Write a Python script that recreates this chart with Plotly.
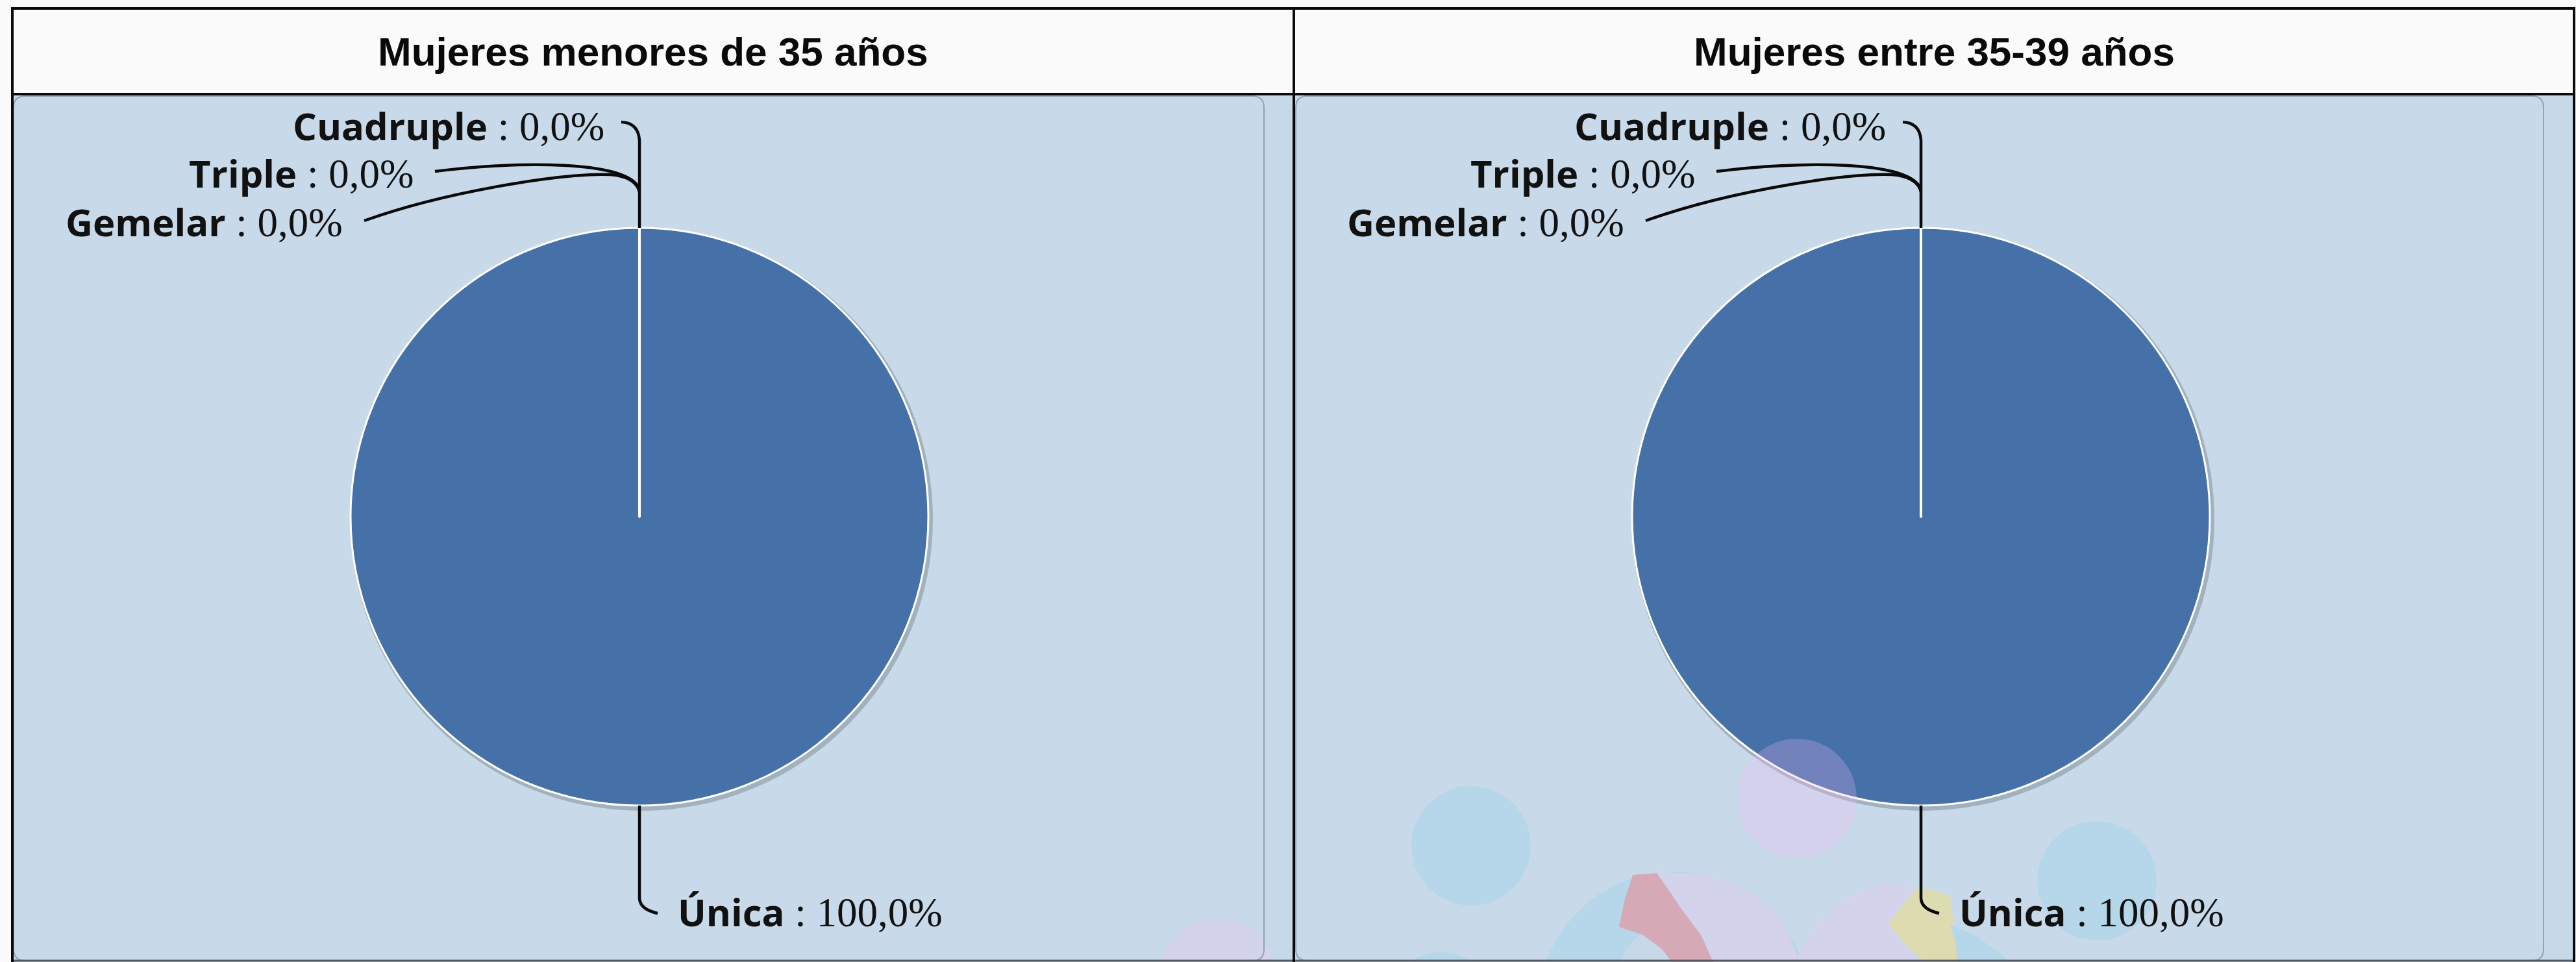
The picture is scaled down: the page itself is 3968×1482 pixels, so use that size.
import math
import plotly.graph_objects as go

# ---------------- data ----------------
categories = ["Única", "Gemelar", "Triple", "Cuadruple"]
values_menores_35 = [100.0, 0.0, 0.0, 0.0]
values_35_39 = [100.0, 0.0, 0.0, 0.0]
panel_titles = ["Mujeres menores de 35 años", "Mujeres entre 35-39 años"]
slice_colors = ["#4571A8", "#AA4643", "#89A54E", "#80699B"]

# ---------------- geometry helpers (pixels -> paper) ----------------
W, H = 3968, 1482


def X(x):
    return x / W


def Y(y):
    return 1 - y / H


def fmt(pt):
    return f"{X(pt[0]):.5f},{Y(pt[1]):.5f}"


def path(cmds):
    out = []
    for c in cmds:
        op, pts = c[0], c[1:]
        out.append(op + " " + " ".join(fmt(p) for p in pts))
    return " ".join(out)


def poly(points):
    return "M " + " L ".join(fmt(p) for p in points) + " Z"


def rrect(x0, y0, x1, y1, r):
    return path([
        ("M", (x0 + r, y0)), ("L", (x1 - r, y0)), ("Q", (x1, y0), (x1, y0 + r)),
        ("L", (x1, y1 - r)), ("Q", (x1, y1), (x1 - r, y1)), ("L", (x0 + r, y1)),
        ("Q", (x0, y1), (x0, y1 - r)), ("L", (x0, y0 + r)), ("Q", (x0, y0), (x0 + r, y0)),
    ]) + " Z"


def circle(cx, cy, r, fill, layer="above"):
    return dict(type="circle", xref="paper", yref="paper", x0=X(cx - r), x1=X(cx + r),
                y0=Y(cy + r), y1=Y(cy - r), fillcolor=fill, line=dict(width=0), layer=layer)


def pshape(d, fill=None, color=None, width=0, layer="above"):
    s = dict(type="path", xref="paper", yref="paper", path=d, layer=layer,
             line=dict(color=color or "rgba(0,0,0,0)", width=width))
    if fill:
        s["fillcolor"] = fill
    return s


# layout constants
COL_X = [(19, 1993), (1993, 3965)]
PANEL_X = [(21, 1947), (1996, 3918)]
PANEL_Y = (148, 1480)
PIE_CX = [985, 2959]
PIE_CY = 796
PIE_R = 445
BG = "#C7D9E8"

fig = go.Figure()

for i, vals in enumerate([values_menores_35, values_35_39]):
    cx = PIE_CX[i]
    fig.add_trace(go.Pie(
        labels=categories, values=vals, sort=False, direction="clockwise", rotation=0,
        marker=dict(colors=slice_colors, line=dict(color="white", width=3)),
        textinfo="none", hoverinfo="label+percent", showlegend=False,
        domain=dict(x=[X(cx - PIE_R), X(cx + PIE_R)], y=[Y(PIE_CY + PIE_R), Y(PIE_CY - PIE_R)]),
    ))

shapes = []
# background regions
shapes.append(dict(type="rect", xref="paper", yref="paper", x0=X(19), x1=X(3965), y0=Y(1482), y1=Y(147),
                   fillcolor=BG, line=dict(width=0), layer="below"))
for (x0, x1) in PANEL_X:
    shapes.append(pshape(rrect(x0, PANEL_Y[0], x1, PANEL_Y[1], 18), fill="#C8DAE9", layer="below"))
# pie shadows
for cx in PIE_CX:
    shapes.append(circle(cx + 3, PIE_CY + 4, PIE_R + 4, "rgba(90,100,110,0.35)", layer="below"))

# decorative bubbles (background artwork)
LB = "#B6D6E9"
LAV = "#D3D3EC"
shapes.append(circle(1876, 1505, 90, LAV))
shapes.append(circle(2266, 1303, 92, LB))
shapes.append(circle(3230, 1357, 92, LB))
shapes.append(circle(2220, 1552, 85, LB))
shapes.append(circle(2768, 1230, 92, "rgba(248,183,248,0.25)"))
shapes.append(circle(2579, 1553, 210, LB))
shapes.append(circle(2568, 1502, 74, BG))
shapes.append(pshape(poly([(2515, 1348), (2552, 1345), (2590, 1400), (2620, 1440), (2639, 1482),
                           (2575, 1482), (2560, 1462), (2530, 1440), (2494, 1428), (2503, 1385)]), fill="#D5A9B5"))
shapes.append(pshape(poly([(2552, 1343), (2631, 1347), (2697, 1373), (2740, 1410), (2760, 1450), (2772, 1482),
                           (2639, 1482), (2620, 1440), (2590, 1400)]), fill=LAV))
shapes.append(pshape(poly([(2763, 1482), (2800, 1420), (2850, 1380), (2900, 1362), (2940, 1362), (2954, 1367),
                           (2917, 1413), (2908, 1422), (2935, 1460), (2962, 1482)]), fill=LAV))
shapes.append(pshape(poly([(2954, 1367), (2980, 1372), (3004, 1380), (3010, 1430), (3016, 1482), (2962, 1482),
                           (2935, 1455), (2908, 1422)]), fill="#DDDCB1"))
shapes.append(pshape(poly([(3004, 1425), (3040, 1440), (3080, 1468), (3095, 1482), (3016, 1482), (3012, 1450)]), fill=LB))

# panel outlines
for (x0, x1) in PANEL_X:
    shapes.append(pshape(rrect(x0, PANEL_Y[0], x1, PANEL_Y[1], 18), color="#8FA3B5", width=2))

# frame lines
shapes.append(dict(type="line", xref="paper", yref="paper", x0=X(17), x1=X(3967), y0=Y(13), y1=Y(13),
                   line=dict(color="#0A0A0A", width=4), layer="above"))
shapes.append(dict(type="line", xref="paper", yref="paper", x0=X(17), x1=X(3967), y0=Y(145), y1=Y(145),
                   line=dict(color="#0A0A0A", width=4), layer="above"))
shapes.append(dict(type="line", xref="paper", yref="paper", x0=X(17), x1=X(3967), y0=Y(1480), y1=Y(1480),
                   line=dict(color="#555B60", width=3), layer="above"))
for xv in [19, 1993, 3965]:
    shapes.append(dict(type="line", xref="paper", yref="paper", x0=X(xv), x1=X(xv), y0=Y(11), y1=Y(1482),
                       line=dict(color="#0A0A0A", width=4), layer="above"))

# white radial edge of the zero slices + leader lines
for cx in PIE_CX:
    shapes.append(dict(type="line", xref="paper", yref="paper", x0=X(cx), x1=X(cx),
                       y0=Y(PIE_CY), y1=Y(PIE_CY - PIE_R), line=dict(color="white", width=4), layer="above"))
    top = PIE_CY - PIE_R
    bot = PIE_CY + PIE_R
    leaders = [
        path([("M", (cx - 28, 188)), ("Q", (cx - 2, 189), (cx, 216)), ("L", (cx, top))]),
        path([("M", (cx - 315, 264)), ("C", (cx - 190, 248), (cx - 15, 246), (cx, 292))]),
        path([("M", (cx - 424, 340)), ("C", (cx - 290, 292), (cx - 90, 262), (cx - 35, 270)),
              ("Q", (cx - 4, 276), (cx, 296))]),
        path([("M", (cx, bot)), ("L", (cx, 1384)), ("Q", (cx + 1, 1401), (cx + 28, 1407))]),
    ]
    for d in leaders:
        shapes.append(pshape(d, color="#0A0A0A", width=4.5))

annotations = []
for i, t in enumerate(panel_titles):
    x0, x1 = COL_X[i]
    annotations.append(dict(text=t, x=X((x0 + x1) / 2), y=Y(80), xref="paper", yref="paper",
                            xanchor="center", yanchor="middle", showarrow=False,
                            font=dict(family="Liberation Sans Narrow, Arial Narrow, Liberation Sans",
                                      size=62, color="#0A0A0A", weight="bold")))

label_pos = {
    "Cuadruple": (-52, 193, "right"),
    "Triple": (-345, 267, "right"),
    "Gemelar": (-455, 341, "right"),
    "Única": (57, 1404, "left"),
}
for i, vals in enumerate([values_menores_35, values_35_39]):
    cx = PIE_CX[i]
    for cat, v in zip(categories, vals):
        dx, yy, anchor = label_pos[cat]
        pct = f"{v:.1f}".replace(".", ",") + "%"
        txt = (f"<b>{cat}</b><span style=\"font-family:'Liberation Serif';font-weight:normal;"
               f"font-size:63px\"> : {pct}</span>")
        annotations.append(dict(text=txt, x=X(cx + dx), y=Y(yy), xref="paper", yref="paper",
                                xanchor=anchor, yanchor="middle", showarrow=False,
                                font=dict(family="Open Sans", size=58, color="#111111")))

fig.update_layout(
    width=W, height=H, margin=dict(l=0, r=0, t=0, b=0),
    paper_bgcolor="#FAFAFA", plot_bgcolor="#FAFAFA",
    shapes=shapes, annotations=annotations, showlegend=False,
)

fig.write_html(
    "out.html",
    config={"displayModeBar": False},
    post_script="document.body.style.margin='0px';document.body.style.overflow='hidden';",
)
